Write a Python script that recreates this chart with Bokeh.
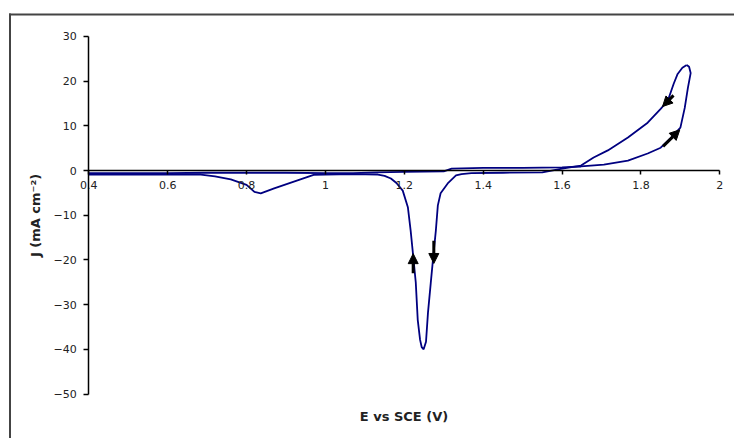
from bokeh.plotting import figure
from bokeh.models import Range1d, FixedTicker, Arrow, NormalHead, ColumnDataSource
from bokeh.embed import file_html
from bokeh.resources import INLINE

# ---- data ----
e_fwd = [0.40, 0.50, 0.60, 0.70, 0.80, 0.90, 1.00, 1.07, 1.13, 1.20, 1.30, 1.32,
         1.40, 1.50, 1.60, 1.648, 1.706, 1.767, 1.817, 1.850, 1.876, 1.900,
         1.911, 1.919, 1.926, 1.922, 1.916]
j_fwd = [-0.6, -0.6, -0.6, -0.5, -0.5, -0.5, -0.6, -0.6, -0.4, -0.3, -0.2, 0.4,
         0.6, 0.6, 0.7, 0.9, 1.3, 2.2, 3.8, 5.1, 7.3, 9.6,
         14.0, 18.5, 21.8, 23.2, 23.6]

e_rev = [1.916, 1.905, 1.893, 1.883, 1.868, 1.850, 1.817, 1.767, 1.716, 1.680,
         1.648, 1.600, 1.550, 1.450, 1.370, 1.345, 1.331, 1.310, 1.292, 1.285,
         1.280, 1.275, 1.267, 1.260, 1.255, 1.249, 1.244, 1.240, 1.234, 1.229,
         1.221, 1.216, 1.209, 1.196, 1.180, 1.166, 1.150, 1.133, 1.070, 1.000,
         0.970, 0.920, 0.870, 0.836, 0.820, 0.800, 0.760, 0.720, 0.684, 0.600,
         0.500, 0.400]
j_rev = [23.6, 23.0, 21.6, 19.4, 15.6, 13.8, 10.7, 7.4, 4.5, 2.9,
         1.1, 0.4, -0.4, -0.5, -0.6, -0.8, -1.1, -2.9, -5.1, -7.8,
         -13.4, -17.8, -25.2, -31.8, -38.3, -40.0, -39.5, -37.9, -33.4, -25.0,
         -17.8, -13.4, -8.2, -4.5, -2.8, -1.8, -1.2, -0.9, -0.8, -0.9,
         -1.0, -2.5, -4.0, -5.1, -4.8, -3.2, -2.0, -1.3, -0.9, -0.9,
         -0.9, -0.9]

x_ticks = [0.4, 0.6, 0.8, 1, 1.2, 1.4, 1.6, 1.8, 2]
x_tick_labels = ["0.4", "0.6", "0.8", "1", "1.2", "1.4", "1.6", "1.8", "2"]
y_ticks = [-50, -40, -30, -20, -10, 0, 10, 20, 30]

# scan-direction arrows (start -> end)
arrow_x0 = [1.2225, 1.2748, 1.8825, 1.856]
arrow_y0 = [-23.0, -15.7, 16.8, 5.4]
arrow_x1 = [1.2225, 1.2748, 1.8546, 1.8985]
arrow_y1 = [-18.6, -20.8, 14.3, 9.1]

# ---- layout constants ----
W, H = 734, 438
PX_PER_V = 394.4
PX_PER_J = 4.47
X0_PAGE, Y0_PAGE = 88.3, 170.0   # pixel of (0.4, 0)

def page_x(px):
    return 0.4 + (px - X0_PAGE) / PX_PER_V

def page_y(py):
    return (Y0_PAGE - py) / PX_PER_J

p = figure(width=W, height=H,
           x_range=Range1d(page_x(0), page_x(W)),
           y_range=Range1d(page_y(H), page_y(0)),
           output_backend="svg", toolbar_location=None,
           min_border_left=0, min_border_right=0,
           min_border_top=0, min_border_bottom=0)
p.grid.visible = False
p.outline_line_color = None
p.background_fill_color = "white"
p.border_fill_color = "white"

FONT = "DejaVu Sans"

xa = p.xaxis[0]
xa.fixed_location = 0
xa.bounds = (0.4, 2)
xa.ticker = FixedTicker(ticks=x_ticks)
xa.major_label_overrides = dict(zip(x_ticks, x_tick_labels))
xa.major_tick_in = 0
xa.major_tick_out = 4
xa.minor_tick_in = 0
xa.minor_tick_out = 0
xa.axis_line_width = 1.5
xa.axis_line_color = "black"
xa.major_tick_line_color = "black"
xa.major_tick_line_width = 1.5
xa.major_label_text_font = FONT
xa.major_label_text_font_size = "11px"
xa.major_label_text_color = "#222222"
xa.major_label_standoff = 6
xa.axis_label = "E vs SCE (V)"
xa.axis_label_text_font = FONT
xa.axis_label_text_font_size = "13px"
xa.axis_label_text_font_style = "bold"
xa.axis_label_text_color = "#222222"
xa.axis_label_standoff = 217

ya = p.yaxis[0]
ya.fixed_location = 0.4
ya.bounds = (-50, 30)
ya.ticker = FixedTicker(ticks=y_ticks)
ya.major_tick_in = 0
ya.major_tick_out = 5
ya.minor_tick_in = 0
ya.minor_tick_out = 0
ya.axis_line_width = 1.5
ya.axis_line_color = "black"
ya.major_tick_line_color = "black"
ya.major_tick_line_width = 1.5
ya.major_label_text_font = FONT
ya.major_label_text_font_size = "11px"
ya.major_label_text_color = "#222222"
ya.major_label_standoff = 7
ya.axis_label = "J (mA cm\u207b\u00b2)"
ya.axis_label_text_font = FONT
ya.axis_label_text_font_size = "13px"
ya.axis_label_text_font_style = "bold"
ya.axis_label_text_color = "#222222"
ya.axis_label_standoff = 7

# outer border: top and left edges of the chart box (the rest lies outside the picture)
p.segment(x0=[page_x(9.5), page_x(8.5)], y0=[page_y(13), page_y(14)],
          x1=[page_x(9.5), page_x(W + 5)], y1=[page_y(H + 5), page_y(14)],
          line_color="#444444", line_width=2)

CURVE = "#000080"
p.line(e_fwd, j_fwd, line_color=CURVE, line_width=1.8)
p.line(e_rev, j_rev, line_color=CURVE, line_width=1.8)

arrows = ColumnDataSource(dict(x0=arrow_x0, y0=arrow_y0, x1=arrow_x1, y1=arrow_y1))
p.add_layout(Arrow(end=NormalHead(size=10, fill_color="black", line_color="black"),
                   x_start="x0", y_start="y0", x_end="x1", y_end="y1",
                   source=arrows, line_width=3, line_color="black"))

open("out.html", "w").write(file_html(p, INLINE))
